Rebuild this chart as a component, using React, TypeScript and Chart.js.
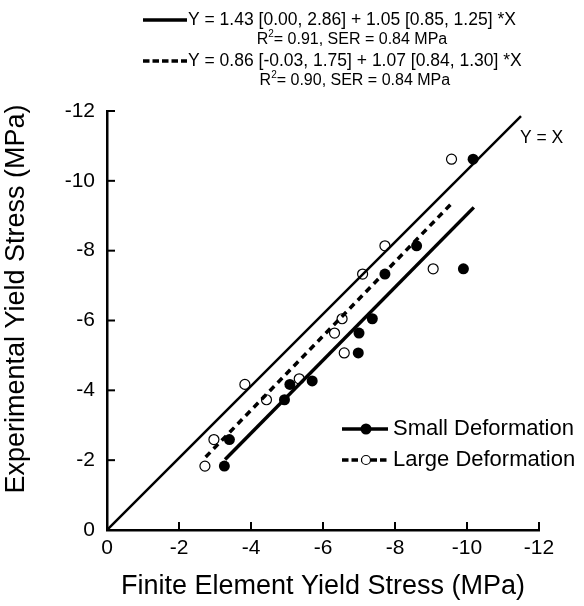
import React, { useEffect, useRef } from "react";
import { Chart, registerables } from "chart.js";

Chart.register(...registerables);

// ---- data ----
const smallX = [-10.17, -8.6, -9.9, -7.72, -7.37, -7.0, -6.98, -5.7, -5.08, -4.93, -3.4, -3.26];
const smallY = [-10.62, -8.14, -7.48, -7.33, -6.05, -5.64, -5.07, -4.27, -4.17, -3.73, -2.59, -1.83];
const largeX = [-9.57, -7.72, -9.06, -7.1, -6.53, -6.32, -6.59, -5.34, -3.83, -4.43, -2.97, -2.72];
const largeY = [-10.62, -8.14, -7.48, -7.33, -6.05, -5.64, -5.07, -4.33, -4.17, -3.73, -2.59, -1.83];

const identityX = [0, -11.5];
const identityY = [0, -11.85];
const fitSmallX = [-3.28, -10.19];
const fitSmallY = [-2.02, -9.24];
const fitLargeX = [-2.74, -9.57];
const fitLargeY = [-2.09, -9.35];

const xTicks = [0, -2, -4, -6, -8, -10, -12];
const yTicks = [0, -2, -4, -6, -8, -10, -12];

const seriesLabels = ["Small Deformation", "Large Deformation"];
const fitEquations = [
  "Y = 1.43 [0.00, 2.86] + 1.05 [0.85, 1.25] *X",
  "Y = 0.86 [-0.03, 1.75] + 1.07 [0.84, 1.30] *X",
];
const fitStats = ["= 0.91, SER = 0.84 MPa", "= 0.90, SER = 0.84 MPa"];
const identityLabel = "Y = X";
const xTitle = "Finite Element Yield Stress (MPa)";
const yTitle = "Experimental Yield Stress (MPa)";

const FONT = "'Liberation Sans', Arial, Helvetica, sans-serif";

const pts = (xs: number[], ys: number[]) => xs.map((x, i) => ({ x, y: ys[i] }));

const decorPlugin = {
  id: "decor",
  afterDraw(chart: any) {
    const ctx = chart.ctx;
    const xs = chart.scales.x;
    const ys = chart.scales.y;
    const area = chart.chartArea;
    ctx.save();
    // inward tick marks
    ctx.strokeStyle = "#000";
    ctx.lineWidth = 2;
    xTicks.forEach((v) => {
      const px = xs.getPixelForValue(v);
      ctx.beginPath();
      ctx.moveTo(px, area.bottom);
      ctx.lineTo(px, area.bottom - 8);
      ctx.stroke();
    });
    yTicks.forEach((v) => {
      const py = ys.getPixelForValue(v);
      ctx.beginPath();
      ctx.moveTo(area.left, py);
      ctx.lineTo(area.left + 8, py);
      ctx.stroke();
    });

    // y axis title
    ctx.fillStyle = "#000";
    ctx.save();
    ctx.translate(17, 299);
    ctx.rotate(-Math.PI / 2);
    ctx.font = `27px ${FONT}`;
    ctx.textAlign = "center";
    ctx.textBaseline = "middle";
    ctx.fillText(yTitle, 0, 0);
    ctx.restore();

    // Y = X label
    ctx.font = `17.5px ${FONT}`;
    ctx.textBaseline = "middle";
    ctx.textAlign = "left";
    ctx.fillText(identityLabel, 520, 138);

    // top legend with fit equations
    const eqX = 188;
    const rowY = [20, 61];
    const statY = [40, 81];
    fitEquations.forEach((eq, i) => {
      ctx.font = `17.5px ${FONT}`;
      ctx.textAlign = "left";
      ctx.textBaseline = "middle";
      ctx.fillText(eq, eqX, rowY[i]);
      const eqW = ctx.measureText(eq).width;
      // sample line
      ctx.beginPath();
      ctx.lineWidth = 3.5;
      ctx.setLineDash(i === 0 ? [] : [6.5, 3]);
      ctx.moveTo(143, rowY[i]);
      ctx.lineTo(187, rowY[i]);
      ctx.stroke();
      ctx.setLineDash([]);
      // stats line, centred under equation
      ctx.font = `16px ${FONT}`;
      const rW = ctx.measureText("R").width;
      const sW = ctx.measureText(fitStats[i]).width;
      ctx.font = `10px ${FONT}`;
      const supW = ctx.measureText("2").width;
      const total = rW + supW + sW;
      let sx = eqX + eqW / 2 - total / 2;
      ctx.font = `16px ${FONT}`;
      ctx.fillText("R", sx, statY[i]);
      sx += rW;
      ctx.font = `10px ${FONT}`;
      ctx.fillText("2", sx, statY[i] - 6);
      sx += supW;
      ctx.font = `16px ${FONT}`;
      ctx.fillText(fitStats[i], sx, statY[i]);
    });

    // right legend
    const legY = [429, 460];
    seriesLabels.forEach((lab, i) => {
      ctx.beginPath();
      ctx.lineWidth = 3.5;
      ctx.setLineDash(i === 0 ? [] : [6.5, 3]);
      ctx.moveTo(342, legY[i]);
      ctx.lineTo(388, legY[i]);
      ctx.stroke();
      ctx.setLineDash([]);
      ctx.beginPath();
      ctx.arc(366, legY[i], i === 0 ? 5.5 : 4.5, 0, Math.PI * 2);
      if (i === 0) {
        ctx.fillStyle = "#000";
        ctx.fill();
      } else {
        ctx.fillStyle = "#fff";
        ctx.fill();
        ctx.lineWidth = 1.2;
        ctx.stroke();
      }
      ctx.fillStyle = "#000";
      ctx.font = `22px ${FONT}`;
      ctx.textAlign = "left";
      ctx.textBaseline = "middle";
      ctx.fillText(lab, 393, legY[i]);
    });
    ctx.restore();
  },
};

export default function App() {
  const ref = useRef<HTMLCanvasElement | null>(null);
  useEffect(() => {
    if (!ref.current) return;
    const chart = new Chart(ref.current, {
      type: "scatter",
      data: {
        datasets: [
          {
            label: seriesLabels[0],
            data: pts(smallX, smallY),
            showLine: false,
            pointRadius: 5.5,
            pointBackgroundColor: "#000",
            pointBorderColor: "#000",
            pointBorderWidth: 0,
            order: 0,
          },
          {
            label: seriesLabels[1],
            data: pts(largeX, largeY),
            showLine: false,
            pointRadius: 5,
            pointBackgroundColor: "rgba(0,0,0,0)",
            pointBorderColor: "#000",
            pointBorderWidth: 1.2,
            order: 1,
          },
          {
            label: "Y = X",
            data: pts(identityX, identityY),
            showLine: true,
            borderColor: "#000",
            borderWidth: 2.5,
            pointRadius: 0,
            order: 2,
          },
          {
            label: "fit small",
            data: pts(fitSmallX, fitSmallY),
            showLine: true,
            borderColor: "#000",
            borderWidth: 3.5,
            pointRadius: 0,
            order: 3,
          },
          {
            label: "fit large",
            data: pts(fitLargeX, fitLargeY),
            showLine: true,
            borderColor: "#000",
            borderWidth: 3.5,
            borderDash: [6.5, 5],
            pointRadius: 0,
            order: 4,
          },
        ],
      },
      options: {
        animation: false,
        responsive: false,
        events: [],
        layout: { padding: { left: 0, right: 45, top: 111, bottom: 0 } },
        plugins: { legend: { display: false }, tooltip: { enabled: false }, title: { display: false } },
        scales: {
          x: {
            type: "linear",
            min: -12,
            max: 0,
            reverse: true,
            afterBuildTicks: (s: any) => {
              s.ticks = xTicks.map((v) => ({ value: v }));
            },
            afterFit: (s: any) => {
              s.height = 76;
            },
            grid: { display: true, drawOnChartArea: false, drawTicks: false },
            border: { display: true, color: "#000", width: 2.5 },
            ticks: {
              color: "#000",
              padding: 6,
              maxRotation: 0,
              font: { family: FONT, size: 21 },
              callback: (v: any) => String(v),
            },
            title: {
              display: true,
              text: xTitle,
              color: "#000",
              font: { family: FONT, size: 27 },
              padding: { top: 0, bottom: 3 },
            },
          },
          y: {
            type: "linear",
            min: -12,
            max: 0,
            reverse: true,
            afterBuildTicks: (s: any) => {
              s.ticks = yTicks.map((v) => ({ value: v }));
            },
            afterFit: (s: any) => {
              s.width = 107;
            },
            grid: { display: true, drawOnChartArea: false, drawTicks: false },
            border: { display: true, color: "#000", width: 2.5 },
            ticks: {
              color: "#000",
              padding: 12,
              font: { family: FONT, size: 21 },
              callback: (v: any) => String(v),
            },
            title: { display: false },
          },
        },
      },
      plugins: [decorPlugin],
    });
    return () => chart.destroy();
  }, []);
  return (
    <div style={{ position: "fixed", left: 0, top: 0, width: 584, height: 606, background: "#fff" }}>
      <canvas ref={ref} width={584} height={606} style={{ display: "block" }} />
    </div>
  );
}
